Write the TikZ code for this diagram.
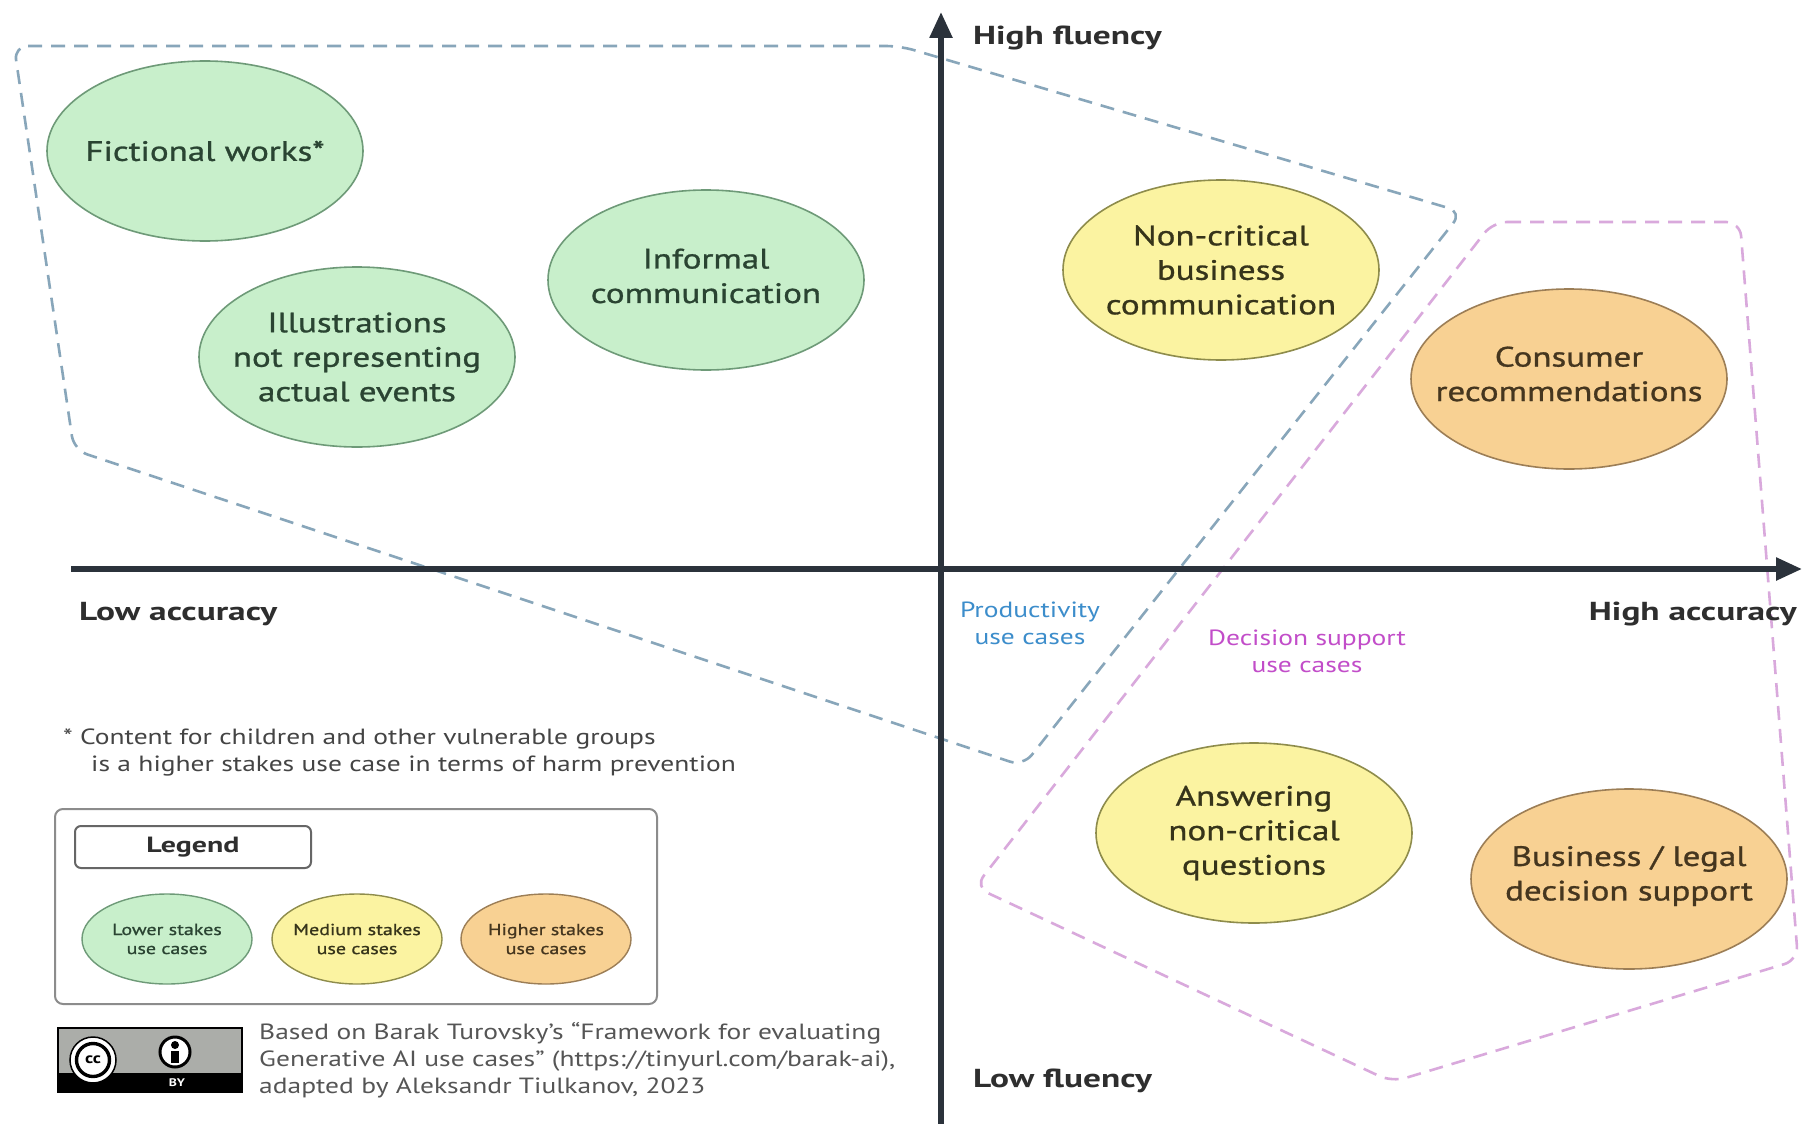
\documentclass[tikz,border=0pt]{standalone}
\usepackage{fontspec}
\setmainfont{PT Sans}[FakeStretch=1.25]
\newfontfamily\labfont{PT Sans}[FakeStretch=1.36]
\newfontfamily\bubfont{PT Sans}[FakeStretch=1.25, FakeBold=1]
\usetikzlibrary{arrows.meta,shapes.geometric}
\definecolor{greenfill}{HTML}{C8EFCB}
\definecolor{greenline}{HTML}{6E9A78}
\definecolor{greentext}{HTML}{2A4432}
\definecolor{yellowfill}{HTML}{FBF3A1}
\definecolor{yellowline}{HTML}{8E8C4C}
\definecolor{yellowtext}{HTML}{36341A}
\definecolor{orangefill}{HTML}{F8D193}
\definecolor{orangeline}{HTML}{9C7E56}
\definecolor{orangetext}{HTML}{45361F}
\definecolor{bluedashcol}{HTML}{88A6BA}
\definecolor{magdashcol}{HTML}{D9A9DC}
\definecolor{prodblue}{HTML}{3C8DCB}
\definecolor{decmag}{HTML}{C24DC9}
\definecolor{axiscol}{HTML}{2B323B}
\definecolor{labelcol}{HTML}{2E2E2E}
\definecolor{notecol}{HTML}{444444}
\definecolor{creditcol}{HTML}{555555}
\definecolor{badgegrey}{HTML}{ABADA9}
\tikzset{
  bubble/.style={ellipse, minimum width=316pt, minimum height=180pt, inner sep=0pt, line width=1.6pt},
  bubtxt/.style={align=center, inner sep=0pt, font=\bubfont\fontsize{28}{34.5}\selectfont},
  lowb/.style={bubble, draw=greenline, fill=greenfill},
  medb/.style={bubble, draw=yellowline, fill=yellowfill},
  highb/.style={bubble, draw=orangeline, fill=orangefill},
  lowt/.style={bubtxt, text=greentext},
  medt/.style={bubtxt, text=yellowtext},
  hight/.style={bubtxt, text=orangetext},
  legb/.style={ellipse, minimum width=170pt, minimum height=90pt, inner sep=0pt, line width=1.4pt},
  legt/.style={align=center, inner sep=0pt, font=\bubfont\fontsize{16}{19}\selectfont},
  axislabel/.style={inner sep=0pt, text=labelcol, font=\labfont\fontsize{26}{30}\selectfont\bfseries},
  axisline/.style={draw=axiscol, line width=5.5pt, -{Triangle[length=26pt,width=22pt]}},
  bluedash/.style={draw=bluedashcol, line width=2.6pt, dash pattern=on 14pt off 9pt, rounded corners=14pt},
  magdash/.style={draw=magdashcol, line width=2.6pt, dash pattern=on 14pt off 9pt, rounded corners=14pt},
  grouplabel/.style={align=center, inner sep=0pt, font=\fontsize{22}{27}\selectfont},
  notetxt/.style={anchor=west, inner sep=0pt, text=notecol, font=\fontsize{22}{27}\selectfont},
}
\begin{document}
\begin{tikzpicture}[x=1pt,y=-1pt]
\useasboundingbox (0,0) rectangle (1804,1124);
\fill[white] (0,0) rectangle (1804,1124);

% dashed group outlines
\draw[bluedash] (14,46) -- (900,46) -- (1462,212) -- (1023,766) -- (74,450) -- cycle;
\draw[magdash] (1493,222) -- (1740,222) -- (1798,960) -- (1392,1082) -- (975,887) -- cycle;

% axes
\coordinate (ybot) at (941,1124);
\coordinate (ytop) at (941,12);
\coordinate (xleft) at (71,569);
\coordinate (xright) at (1802,569);
\draw[axisline] (xleft) -- (xright);
\draw[axisline] (ybot) -- (ytop);

\node[axislabel, anchor=west] (hf) at (973,38) {High fluency};
\node[axislabel, anchor=west] (lf) at (973,1081) {Low fluency};
\node[axislabel, anchor=west] (la) at (79,614) {Low accuracy};
\node[axislabel, anchor=east] (ha) at (1797,614) {High accuracy};

\node[grouplabel, text=prodblue] (prod) at (1030,623) {Productivity\\use cases};
\node[grouplabel, text=decmag] (dec) at (1307,651) {Decision support\\use cases};

% bubbles
\node[lowb] (fw) at (205,151) {};
\node[lowt] (fwt) at (fw) {Fictional works*};
\node[lowb] (il) at (357,357) {};
\node[lowt] (ilt) at (il) {Illustrations\\not representing\\actual events};
\node[lowb] (ic) at (706,280) {};
\node[lowt] (ict) at (706,276) {Informal\\communication};
\node[medb] (nc) at (1221,270) {};
\node[medt] (nct) at (nc) {Non-critical\\business\\communication};
\node[highb] (cr) at (1569,379) {};
\node[hight] (crt) at (1569,374) {Consumer\\recommendations};
\node[medb] (aq) at (1254,833) {};
\node[medt] (aqt) at (aq) {Answering\\non-critical\\questions};
\node[highb] (bl) at (1629,879) {};
\node[hight] (blt) at (1629,876) {Business / legal\\decision support};

% footnote
\node[notetxt] (fn1) at (63,739) {* Content for children and other vulnerable groups};
\node[notetxt] (fn2) at (91,766) {is a higher stakes use case in terms of harm prevention};

% legend
\node[draw=black!45, line width=2pt, rounded corners=8pt, minimum width=602pt, minimum height=195pt, inner sep=0pt] (legend) at (356,906.5) {};
\node[draw=black!60, line width=2pt, rounded corners=6pt, minimum width=236pt, minimum height=42pt, inner sep=0pt, text=labelcol, font=\labfont\fontsize{22}{26}\selectfont\bfseries] (legtitle) at (193,847) {Legend};
\node[legb, draw=greenline, fill=greenfill] (l1) at (167,939) {};
\node[legt, text=greentext] (l1t) at (l1) {Lower stakes\\use cases};
\node[legb, draw=yellowline, fill=yellowfill] (l2) at (357,939) {};
\node[legt, text=yellowtext] (l2t) at (l2) {Medium stakes\\use cases};
\node[legb, draw=orangeline, fill=orangefill] (l3) at (546,939) {};
\node[legt, text=orangetext] (l3t) at (l3) {Higher stakes\\use cases};

% CC BY badge
\fill[badgegrey] (58,1028) rectangle (242,1092);
\fill[black] (58,1073) rectangle (242,1092);
\draw[black, line width=2pt] (58,1028) rectangle (242,1092);
\filldraw[fill=white, draw=black, line width=1.5pt] (93,1060) circle[radius=23];
\draw[black, line width=3.4pt] (93,1060) circle[radius=16.5];
\node[inner sep=0pt, font=\fontsize{15}{15}\selectfont\bfseries] (cctxt) at (93,1060) {cc};
\filldraw[fill=white, draw=black, line width=3pt] (175,1052) circle[radius=15];
\fill[black] (175,1045) circle[radius=4];
\fill[black] (171,1051) rectangle (179,1063);
\node[inner sep=0pt, text=white, font=\fontsize{11}{11}\selectfont\bfseries] (bytxt) at (177,1083) {BY};

% credit
\node[anchor=north west, align=left, inner sep=0pt, text=creditcol, font=\fontsize{22}{27}\selectfont] (credit) at (259,1022) {Based on Barak Turovsky’s “Framework for evaluating\\Generative AI use cases” (https://tinyurl.com/barak-ai),\\adapted by Aleksandr Tiulkanov, 2023};
\end{tikzpicture}
\end{document}
